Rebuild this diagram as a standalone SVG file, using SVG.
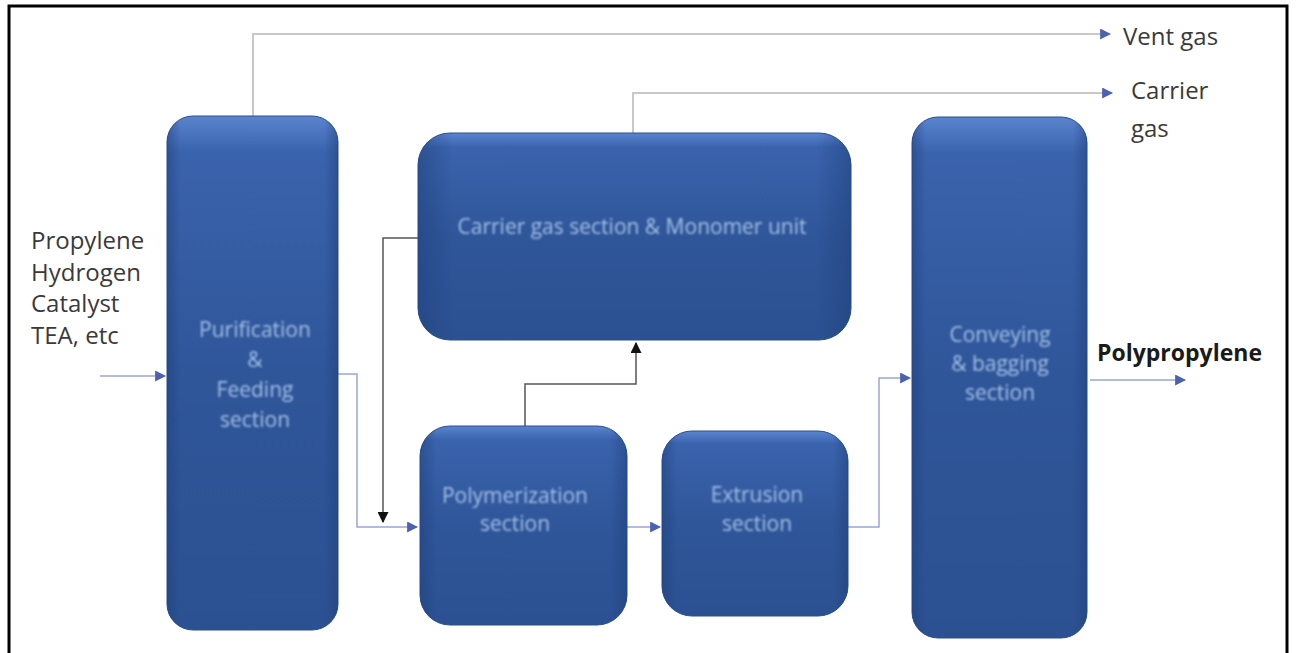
<svg xmlns="http://www.w3.org/2000/svg" width="1296" height="653" viewBox="0 0 1296 653">
  <defs>
    <linearGradient id="boxFill" x1="0" y1="0" x2="0" y2="1">
      <stop offset="0" stop-color="#5b84cf"/>
      <stop offset="0.07" stop-color="#3a63ad"/>
      <stop offset="0.5" stop-color="#2f5699"/>
      <stop offset="1" stop-color="#2c5192"/>
    </linearGradient>
    <linearGradient id="edgeShade" x1="0" y1="0" x2="1" y2="0">
      <stop offset="0" stop-color="#1f3f7a" stop-opacity="0.5"/>
      <stop offset="0.08" stop-color="#1f3f7a" stop-opacity="0"/>
      <stop offset="0.92" stop-color="#1f3f7a" stop-opacity="0"/>
      <stop offset="1" stop-color="#1f3f7a" stop-opacity="0.5"/>
    </linearGradient>
    <filter id="soft" x="-5%" y="-5%" width="110%" height="110%">
      <feGaussianBlur stdDeviation="1"/>
    </filter>
    <marker id="arrBlue" viewBox="0 0 10 10" refX="9" refY="5" markerWidth="11" markerHeight="11" markerUnits="userSpaceOnUse" orient="auto">
      <path d="M0,0 L10,5 L0,10 z" fill="#4a62b0"/>
    </marker>
    <marker id="arrBlack" viewBox="0 0 10 10" refX="9" refY="5" markerWidth="11" markerHeight="11" markerUnits="userSpaceOnUse" orient="auto">
      <path d="M0,0 L10,5 L0,10 z" fill="#111"/>
    </marker>
  </defs>
  <style>
    .box { fill: url(#boxFill); stroke: #2a4f8f; stroke-width: 1; }
    .shade { fill: url(#edgeShade); }
    .btxt { font-family: "Open Sans", "Liberation Sans", sans-serif; font-size: 21px; fill: #a3c0e6; text-anchor: middle; filter: url(#soft); }
    .lbl { font-family: "Open Sans", "Liberation Sans", sans-serif; font-size: 24px; fill: #3a3a3a; }
    .lblb { font-family: "Open Sans", "Liberation Sans", sans-serif; font-size: 23px; font-weight: bold; fill: #1a1a1a; }
    .gray { fill: none; stroke: #c8c8c8; stroke-width: 2; }
    .dark { fill: none; stroke: #555; stroke-width: 1.5; }
    .blue { fill: none; stroke: #9aa6d6; stroke-width: 1.5; }
  </style>

  <rect x="0" y="0" width="1296" height="653" fill="#ffffff"/>
  <rect x="9" y="6" width="1278" height="652" fill="none" stroke="#000" stroke-width="3"/>

  <g id="connectors">
    <polyline class="gray" points="253,116 253,34 1110,34" marker-end="url(#arrBlue)"/>
    <polyline class="gray" points="633,133 633,93 1112,93" marker-end="url(#arrBlue)"/>
    <polyline class="dark" points="418,238 383,238 383,522" marker-end="url(#arrBlack)"/>
    <polyline class="blue" points="338,374 357,374 357,527 417,527" marker-end="url(#arrBlue)"/>
    <polyline class="dark" points="525,426 525,384 636,384 636,343" marker-end="url(#arrBlack)"/>
    <line class="blue" x1="627" y1="527" x2="660" y2="527" marker-end="url(#arrBlue)"/>
    <polyline class="blue" points="848,527 879,527 879,378 910,378" marker-end="url(#arrBlue)"/>
    <line class="blue" x1="100" y1="376" x2="165" y2="376" marker-end="url(#arrBlue)"/>
    <line class="blue" x1="1090" y1="380" x2="1185" y2="380" marker-end="url(#arrBlue)"/>
  </g>

  <g id="purification">
    <rect class="box" x="167" y="116" width="171" height="514" rx="26"/>
    <rect class="shade" x="167" y="116" width="171" height="514" rx="26"/>
    <text class="btxt" x="255" y="337">Purification</text>
    <text class="btxt" x="255" y="367">&amp;</text>
    <text class="btxt" x="255" y="397">Feeding</text>
    <text class="btxt" x="255" y="427">section</text>
  </g>

  <g id="carrier-gas">
    <rect class="box" x="418" y="133" width="433" height="207" rx="32"/>
    <rect class="shade" x="418" y="133" width="433" height="207" rx="32"/>
    <text class="btxt" x="632" y="234">Carrier gas section &amp; Monomer unit</text>
  </g>

  <g id="polymerization">
    <rect class="box" x="420" y="426" width="207" height="199" rx="30"/>
    <rect class="shade" x="420" y="426" width="207" height="199" rx="30"/>
    <text class="btxt" x="515" y="503">Polymerization</text>
    <text class="btxt" x="515" y="531">section</text>
  </g>

  <g id="extrusion">
    <rect class="box" x="662" y="431" width="186" height="185" rx="30"/>
    <rect class="shade" x="662" y="431" width="186" height="185" rx="30"/>
    <text class="btxt" x="757" y="502">Extrusion</text>
    <text class="btxt" x="757" y="531">section</text>
  </g>

  <g id="conveying">
    <rect class="box" x="912" y="117" width="175" height="521" rx="26"/>
    <rect class="shade" x="912" y="117" width="175" height="521" rx="26"/>
    <text class="btxt" x="1000" y="342">Conveying</text>
    <text class="btxt" x="1000" y="371">&amp; bagging</text>
    <text class="btxt" x="1000" y="400">section</text>
  </g>

  <g id="labels">
    <text class="lbl" x="31" y="249">Propylene</text>
    <text class="lbl" x="31" y="281">Hydrogen</text>
    <text class="lbl" x="31" y="312">Catalyst</text>
    <text class="lbl" x="31" y="344">TEA, etc</text>
    <text class="lbl" x="1123" y="45">Vent gas</text>
    <text class="lbl" x="1131" y="99">Carrier</text>
    <text class="lbl" x="1131" y="137">gas</text>
    <text class="lblb" x="1097" y="361">Polypropylene</text>
  </g>
</svg>
